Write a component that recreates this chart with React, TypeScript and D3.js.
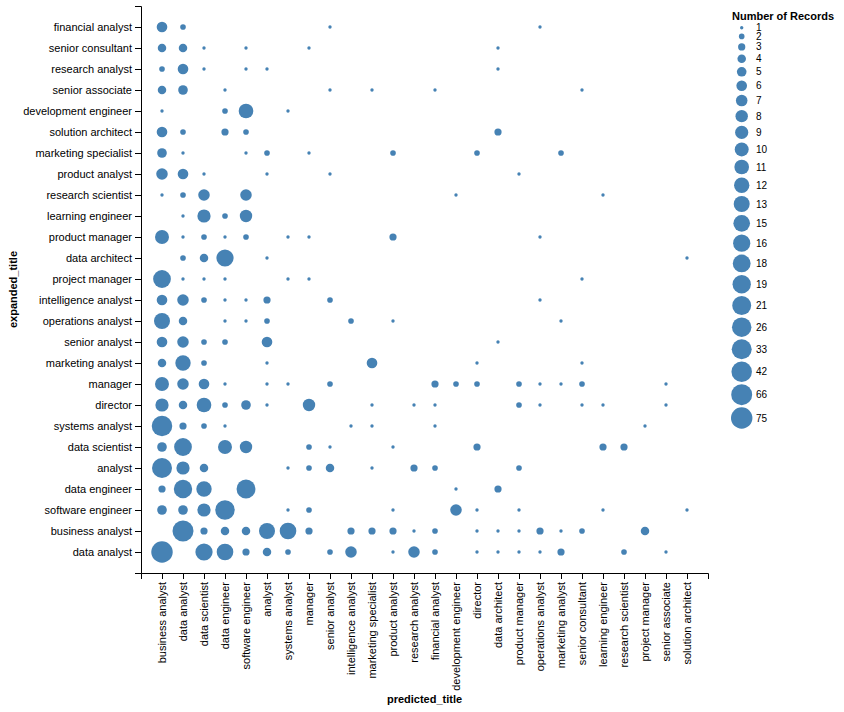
import React, { useEffect, useRef } from "react";
import * as d3 from "d3";

// predicted_title (x axis) categories
const predictedTitles: string[] = [
  "business analyst", "data analyst", "data scientist", "data engineer", "software engineer",
  "analyst", "systems analyst", "manager", "senior analyst", "intelligence analyst",
  "marketing specialist", "product analyst", "research analyst", "financial analyst",
  "development engineer", "director", "data architect", "product manager", "operations analyst",
  "marketing analyst", "senior consultant", "learning engineer", "research scientist",
  "project manager", "senior associate", "solution architect",
];

// expanded_title (y axis) categories, top to bottom
const expandedTitles: string[] = [
  "financial analyst", "senior consultant", "research analyst", "senior associate",
  "development engineer", "solution architect", "marketing specialist", "product analyst",
  "research scientist", "learning engineer", "product manager", "data architect",
  "project manager", "intelligence analyst", "operations analyst", "senior analyst",
  "marketing analyst", "manager", "director", "systems analyst", "data scientist", "analyst",
  "data engineer", "software engineer", "business analyst", "data analyst",
];

// Number of Records: one row per expanded_title, one column per predicted_title (0 = none)
const counts: number[][] = [
  // BA DA DS DE SE an sy mg sa ia ms pa ra fa de di dr pm oa ma sc le rs pj as so
  [6, 2, 0, 0, 0, 0, 0, 0, 1, 0, 0, 0, 0, 0, 0, 0, 0, 0, 1, 0, 0, 0, 0, 0, 0, 0], // financial analyst
  [4, 4, 1, 0, 1, 0, 0, 1, 0, 0, 0, 0, 0, 0, 0, 0, 1, 0, 0, 0, 0, 0, 0, 0, 0, 0], // senior consultant
  [2, 6, 1, 0, 1, 1, 0, 0, 0, 0, 0, 0, 0, 0, 0, 0, 1, 0, 0, 0, 0, 0, 0, 0, 0, 0], // research analyst
  [4, 5, 0, 1, 0, 0, 0, 0, 1, 0, 1, 0, 0, 1, 0, 0, 0, 0, 0, 0, 1, 0, 0, 0, 0, 0], // senior associate
  [1, 0, 0, 2, 11, 0, 1, 0, 0, 0, 0, 0, 0, 0, 0, 0, 0, 0, 0, 0, 0, 0, 0, 0, 0, 0], // development engineer
  [6, 2, 0, 3, 2, 0, 0, 0, 0, 0, 0, 0, 0, 0, 0, 0, 3, 0, 0, 0, 0, 0, 0, 0, 0, 0], // solution architect
  [5, 1, 0, 0, 1, 2, 0, 1, 0, 0, 0, 2, 0, 0, 0, 2, 0, 0, 0, 2, 0, 0, 0, 0, 0, 0], // marketing specialist
  [7, 6, 1, 0, 0, 1, 0, 0, 1, 0, 0, 0, 0, 0, 0, 0, 0, 1, 0, 0, 0, 0, 0, 0, 0, 0], // product analyst
  [1, 2, 7, 0, 7, 0, 0, 0, 0, 0, 0, 0, 0, 0, 1, 0, 0, 0, 0, 0, 0, 1, 0, 0, 0, 0], // research scientist
  [0, 1, 9, 2, 8, 0, 0, 0, 0, 0, 0, 0, 0, 0, 0, 0, 0, 0, 0, 0, 0, 0, 0, 0, 0, 0], // learning engineer
  [10, 1, 2, 1, 2, 0, 1, 1, 0, 0, 0, 3, 0, 0, 0, 0, 0, 0, 1, 0, 0, 0, 0, 0, 0, 0], // product manager
  [0, 2, 4, 16, 0, 1, 0, 0, 0, 0, 0, 0, 0, 0, 0, 0, 0, 0, 0, 0, 0, 0, 0, 0, 0, 1], // data architect
  [18, 1, 1, 1, 0, 0, 1, 1, 0, 0, 0, 0, 0, 0, 0, 0, 0, 0, 0, 0, 1, 0, 0, 0, 0, 0], // project manager
  [6, 7, 2, 1, 1, 3, 0, 0, 2, 0, 0, 0, 0, 0, 0, 0, 0, 0, 1, 0, 0, 0, 0, 0, 0, 0], // intelligence analyst
  [13, 4, 0, 1, 1, 2, 0, 0, 0, 2, 0, 1, 0, 0, 0, 0, 0, 0, 0, 1, 0, 0, 0, 0, 0, 0], // operations analyst
  [6, 7, 2, 2, 0, 6, 0, 0, 0, 0, 0, 0, 0, 0, 0, 0, 1, 0, 0, 0, 0, 0, 0, 0, 0, 0], // senior analyst
  [4, 12, 2, 0, 0, 1, 0, 0, 0, 0, 6, 0, 0, 0, 0, 1, 0, 0, 0, 0, 1, 0, 0, 0, 0, 0], // marketing analyst
  [10, 7, 6, 1, 0, 1, 1, 0, 2, 0, 0, 0, 0, 3, 2, 2, 0, 2, 1, 1, 2, 0, 0, 0, 1, 0], // manager
  [9, 4, 11, 2, 5, 1, 0, 8, 0, 0, 1, 0, 1, 1, 0, 0, 0, 2, 1, 0, 1, 1, 0, 0, 1, 0], // director
  [42, 3, 2, 1, 0, 0, 0, 0, 0, 1, 1, 0, 0, 1, 0, 0, 0, 0, 0, 0, 0, 0, 0, 1, 0, 0], // systems analyst
  [5, 18, 0, 10, 8, 0, 0, 2, 1, 0, 0, 1, 0, 0, 0, 3, 0, 0, 0, 0, 0, 3, 3, 0, 0, 0], // data scientist
  [33, 9, 4, 0, 0, 0, 1, 2, 4, 0, 1, 0, 3, 2, 0, 0, 0, 2, 0, 0, 0, 0, 0, 0, 0, 0], // analyst
  [3, 19, 12, 0, 21, 0, 0, 0, 0, 0, 0, 0, 0, 0, 1, 0, 3, 0, 0, 0, 0, 0, 0, 0, 0, 0], // data engineer
  [5, 5, 9, 26, 0, 0, 1, 2, 0, 0, 0, 1, 0, 0, 7, 1, 0, 1, 0, 0, 0, 1, 0, 0, 0, 1], // software engineer
  [0, 66, 3, 4, 4, 13, 15, 3, 0, 3, 3, 3, 1, 2, 0, 1, 1, 1, 3, 1, 2, 0, 0, 4, 0, 0], // business analyst
  [75, 0, 16, 15, 3, 4, 2, 0, 2, 7, 0, 1, 7, 2, 0, 1, 1, 1, 1, 3, 0, 0, 2, 0, 1, 0], // data analyst
];

const xTitle = "predicted_title";
const yTitle = "expanded_title";
const legendTitle = "Number of Records";

const FONT = "Helvetica, Arial, 'Liberation Sans', sans-serif";
const COLOR = "#4682b4";

export default function App() {
  const ref = useRef<SVGSVGElement | null>(null);

  useEffect(() => {
    const svg = d3.select(ref.current);
    svg.selectAll("*").remove();

    const left = 141, right = 708, top = 6, bottom = 573;

    const x = d3.scalePoint<string>().domain(predictedTitles).range([left, right]).padding(1);
    const y = d3.scalePoint<string>().domain(expandedTitles).range([top, bottom]).padding(1);

    const records: { e: string; p: string; n: number }[] = [];
    counts.forEach((row, i) =>
      row.forEach((n, j) => {
        if (n > 0) records.push({ e: expandedTitles[i], p: predictedTitles[j], n });
      })
    );
    const sizeValues = Array.from(new Set(records.map((r) => r.n))).sort((a, b) => a - b);
    const area = d3.scalePoint<number>().domain(sizeValues).range([9, 361]);
    const radius = (v: number) => Math.sqrt((area(v) as number) / Math.PI);

    // axes
    const gx = svg
      .append("g")
      .attr("transform", `translate(0,${bottom})`)
      .call(d3.axisBottom(x).tickSize(6).tickSizeOuter(6));
    gx.attr("font-size", 11).attr("font-family", FONT);
    gx.selectAll<SVGTextElement, string>(".tick text")
      .attr("transform", "rotate(-90)")
      .attr("x", -9)
      .attr("y", 0)
      .attr("dy", "0.32em")
      .attr("text-anchor", "end")
      .attr("fill", "#000");

    const gy = svg
      .append("g")
      .attr("transform", `translate(${left},0)`)
      .call(d3.axisLeft(y).tickSize(6).tickSizeOuter(6));
    gy.attr("font-size", 11).attr("font-family", FONT);
    gy.selectAll(".tick text").attr("fill", "#000");

    // axis titles
    svg
      .append("text")
      .attr("x", (left + right) / 2)
      .attr("y", 703)
      .attr("text-anchor", "middle")
      .attr("font-family", FONT)
      .attr("font-size", 11)
      .attr("font-weight", "bold")
      .text(xTitle);
    svg
      .append("text")
      .attr("transform", `translate(17,${(top + bottom) / 2}) rotate(-90)`)
      .attr("text-anchor", "middle")
      .attr("font-family", FONT)
      .attr("font-size", 11)
      .attr("font-weight", "bold")
      .text(yTitle);

    // bubbles
    svg
      .append("g")
      .selectAll("circle")
      .data(records)
      .join("circle")
      .attr("cx", (d) => x(d.p) as number)
      .attr("cy", (d) => y(d.e) as number)
      .attr("r", (d) => radius(d.n))
      .attr("fill", COLOR);

    // legend
    const lg = svg.append("g");
    lg.append("text")
      .attr("x", 732)
      .attr("y", 20)
      .attr("font-family", FONT)
      .attr("font-size", 11)
      .attr("font-weight", "bold")
      .text(legendTitle);
    let cy = 27.7;
    sizeValues.forEach((v, i) => {
      const r = radius(v);
      if (i > 0) cy += radius(sizeValues[i - 1]) + r + (4.2 - 0.1 * (i - 1));
      lg.append("circle").attr("cx", 741.7).attr("cy", cy).attr("r", r).attr("fill", COLOR);
      lg.append("text")
        .attr("x", 756)
        .attr("y", cy)
        .attr("dy", "0.35em")
        .attr("font-family", FONT)
        .attr("font-size", 10)
        .attr("fill", "#000")
        .text(String(v));
    });
  }, []);

  return (
    <svg
      ref={ref}
      width={844}
      height={712}
      style={{ position: "absolute", left: 0, top: 0, background: "#fff" }}
    />
  );
}
